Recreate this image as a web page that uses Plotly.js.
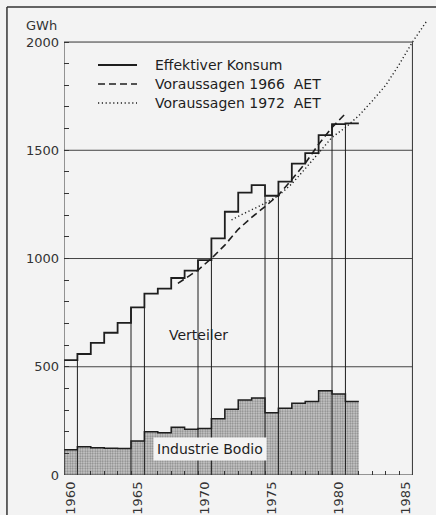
<!DOCTYPE html>
<html>
<head>
<meta charset="utf-8">
<script src="https://cdn.plot.ly/plotly-3.0.1.min.js"></script>
<style>html,body{margin:0;padding:0;background:#f3f3f3;}</style>
</head>
<body>
<div id="chart" style="width:436px;height:515px;"></div>
<script>
// ---- data ----
const years = [1960,1961,1962,1963,1964,1965,1966,1967,1968,1969,1970,1971,1972,1973,1974,1975,1976,1977,1978,1979,1980,1981];
const totalConsumption = [531,559,610,657,703,774,838,861,910,944,993,1093,1216,1304,1339,1290,1355,1438,1487,1570,1621,1624];
const industryBodio = [117,130,126,123,122,157,200,195,220,211,215,260,304,346,356,288,308,331,339,389,374,340];
const outlinedYears = [1960,1965,1970,1975,1980];

const forecast1966Years = [1968.5,1969,1970,1971,1972,1973,1974,1975,1976,1977,1978,1979,1980,1980.9];
const forecast1966 = [885,905,947,1000,1062,1135,1190,1240,1293,1365,1440,1528,1605,1663];

const forecast1972Years = [1972.5,1973,1974,1975,1976,1977,1978,1979,1980,1981,1982,1983,1984,1985,1986,1987.1];
const forecast1972 = [1178,1195,1225,1255,1290,1345,1415,1490,1560,1605,1660,1728,1800,1895,2000,2100];

const yTickVals = [0,100,200,300,400,500,600,700,800,900,1000,1100,1200,1300,1400,1500,1600,1700,1800,1900,2000];
const xTickVals = [1960,1961,1962,1963,1964,1965,1966,1967,1968,1969,1970,1971,1972,1973,1974,1975,1976,1977,1978,1979,1980,1981,1982,1983,1984,1985];

const labels = {
  total: 'Effektiver Konsum',
  f66: 'Voraussagen 1966  AET',
  f72: 'Voraussagen 1972  AET',
  unit: 'GWh',
  dist: 'Verteiler',
  ind: 'Industrie Bodio'
};

// ---- build step series ----
const stepX = years.concat([years[years.length-1]+1]);
const stepTotal = totalConsumption.concat([totalConsumption[totalConsumption.length-1]]);
const stepInd = industryBodio.concat([industryBodio[industryBodio.length-1]]);

const bx = [], by = [];
outlinedYears.forEach(y => {
  const i = years.indexOf(y);
  bx.push(y, y, null, y+1, y+1, null);
  by.push(0, totalConsumption[i], null, 0, totalConsumption[i], null);
});

const ink = '#1e1e1e';
const font = 'DejaVu Sans, sans-serif';

const styles = {
  total: {color: ink, width: 1.8},
  f66: {color: ink, width: 1.6, dash: '7px,4px'},
  f72: {color: ink, width: 1.4, dash: '1.2px,2.6px'}
};

const traces = [
  {x: stepX, y: stepInd, type: 'scatter', mode: 'lines', line: {shape: 'hv', color: ink, width: 1.5},
   fill: 'tozeroy', fillcolor: '#c6c6c6',
   fillpattern: {shape: '.', fgcolor: '#858585', bgcolor: '#cdcdcd', size: 2.5, solidity: 0.45},
   showlegend: false, hoverinfo: 'skip'},
  {x: bx, y: by, type: 'scatter', mode: 'lines', line: {color: ink, width: 1}, showlegend: false, hoverinfo: 'skip'},
  {x: stepX, y: stepTotal, type: 'scatter', mode: 'lines', name: labels.total,
   line: Object.assign({shape: 'hv'}, styles.total), showlegend: false},
  {x: forecast1966Years, y: forecast1966, type: 'scatter', mode: 'lines', name: labels.f66,
   line: styles.f66, showlegend: false},
  {x: forecast1972Years, y: forecast1972, type: 'scatter', mode: 'lines', name: labels.f72,
   line: styles.f72, showlegend: false}
];

const shapes = [];
[500,1000,1500].forEach(v => shapes.push({type:'line', xref:'x', yref:'y', x0:1960, x1:1986, y0:v, y1:v, line:{color:'#444', width:1}, layer:'below'}));
shapes.push({type:'rect', xref:'x', yref:'y', x0:1960, x1:1986, y0:0, y1:2000, line:{color:'#333', width:1}});
// outer figure border (left and top)
shapes.push({type:'line', xref:'paper', yref:'paper', x0:-0.155, x1:-0.155, y0:1.0065, y1:-0.2, line:{color:'#333', width:1.5}});
shapes.push({type:'line', xref:'paper', yref:'paper', x0:-0.155, x1:1.2, y0:1.0065, y1:1.0065, line:{color:'#333', width:1.5}});

// hand-drawn key (as in the original figure)
const keyRows = [
  {key: 'total', y: 0.8817},
  {key: 'f66', y: 0.8409},
  {key: 'f72', y: 0.8000}
];
const annotations = [
  {x: -0.0625, y: 0.9677, xref: 'paper', yref: 'paper', xanchor: 'center', yanchor: 'middle',
   text: labels.unit, showarrow: false, font: {family: font, size: 13, color: '#333'}},
  {x: 1970.03, y: 647, xref: 'x', yref: 'y', text: labels.dist, showarrow: false, font: {family: font, size: 14, color: ink}},
  {x: 1970.93, y: 120, xref: 'x', yref: 'y', text: labels.ind, showarrow: false, bgcolor: '#f3f3f3', borderpad: 3,
   font: {family: font, size: 14, color: ink}}
];
keyRows.forEach(r => {
  shapes.push({type: 'line', xref: 'paper', yref: 'paper', x0: 0.0924, x1: 0.1984, y0: r.y, y1: r.y, line: styles[r.key]});
  annotations.push({x: 0.2418, y: r.y, xref: 'paper', yref: 'paper', xanchor: 'left', yanchor: 'middle',
    text: labels[r.key], showarrow: false, font: {family: font, size: 14, color: ink}});
});

const layout = {
  width: 436, height: 515,
  margin: {l: 64, r: 4, t: 10, b: 40},
  paper_bgcolor: '#f3f3f3', plot_bgcolor: '#f3f3f3',
  font: {family: font, size: 13, color: ink},
  xaxis: {range: [1960, 1987.46], tickvals: xTickVals,
    ticktext: xTickVals.map(v => v % 5 === 0 ? String(v) : ''),
    ticks: 'inside', ticklen: 4, tickcolor: '#333', tickwidth: 1,
    tickangle: -90, ticklabelshift: 7, ticklabelstandoff: 3, showgrid: false, zeroline: false, showline: false,
    tickfont: {family: font, size: 13, color: '#333'}, automargin: false},
  yaxis: {range: [0, 2148], tickvals: yTickVals,
    ticktext: yTickVals.map(v => v % 500 === 0 ? String(v) : ''),
    ticks: 'inside', ticklen: 5, tickcolor: '#333', tickwidth: 1,
    showgrid: false, zeroline: false, showline: false, ticklabelstandoff: 4,
    tickfont: {family: font, size: 13, color: '#333'}, automargin: false},
  showlegend: false,
  shapes: shapes,
  annotations: annotations
};

Plotly.newPlot('chart', traces, layout, {displayModeBar: false, staticPlot: true});
</script>
</body>
</html>
